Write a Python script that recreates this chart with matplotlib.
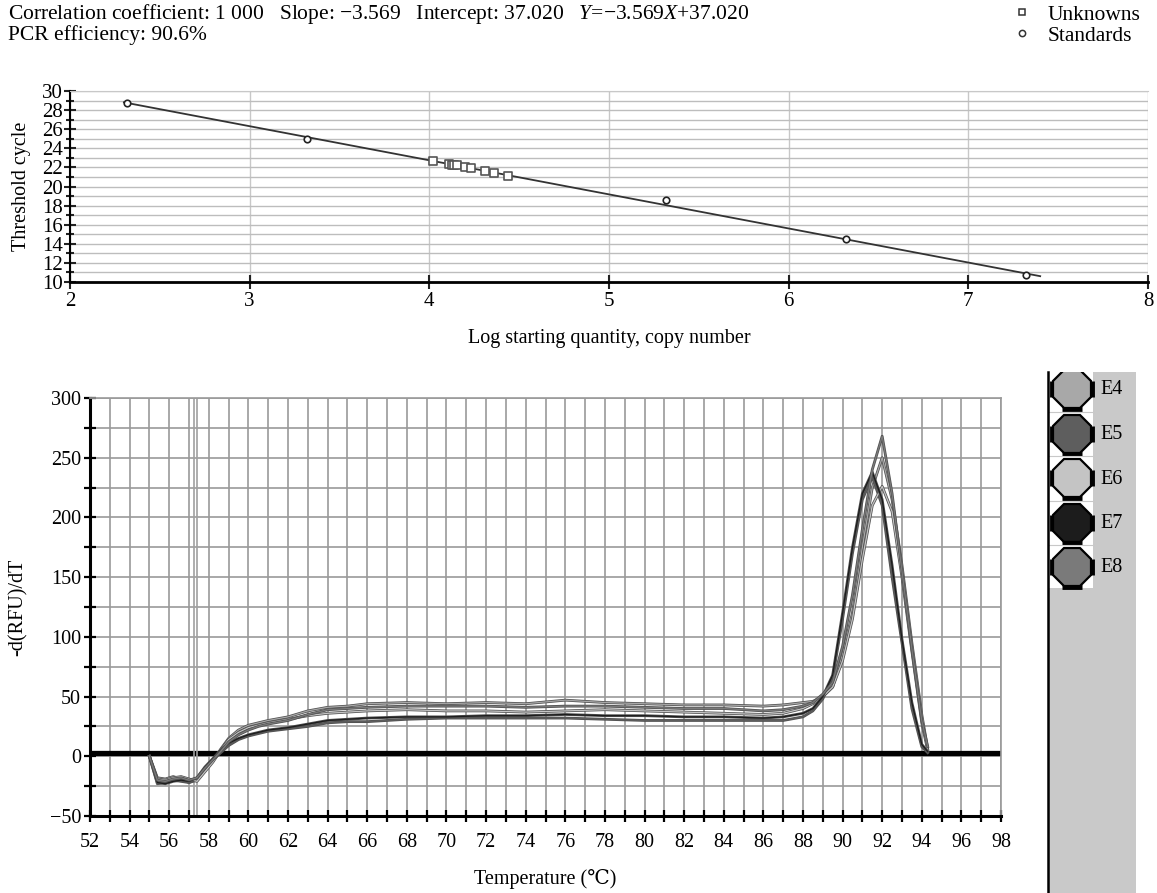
import matplotlib
matplotlib.use('Agg')
import matplotlib.pyplot as plt
import matplotlib.patheffects as pe
from matplotlib.lines import Line2D
from matplotlib.patches import Rectangle
from matplotlib.ticker import MultipleLocator

plt.rcParams['font.family'] = ['Liberation Serif', 'DejaVu Serif']
plt.rcParams['font.size'] = 14.5
plt.rcParams['mathtext.fontset'] = 'custom'
plt.rcParams['mathtext.rm'] = 'Liberation Serif'
plt.rcParams['mathtext.it'] = 'Liberation Serif:italic'

# ---- standard curve data (top panel) ----
std_x = [2.32, 3.32, 5.32, 6.32, 7.32]
std_y = [28.7, 25.0, 18.6, 14.5, 10.7]
unk_x = [4.02, 4.11, 4.125, 4.14, 4.155, 4.20, 4.23, 4.31, 4.36, 4.44]
unk_y = [22.7, 22.35, 22.3, 22.25, 22.2, 22.0, 21.95, 21.65, 21.45, 21.15]
slope = -3.569
intercept = 37.020
fit_range = [2.30, 7.40]

# ---- melt curve data (bottom panel) ----
temps = [55.0, 55.4, 55.8, 56.2, 56.6, 57.0, 57.4, 57.8, 58.2, 58.6, 59.0, 59.5,
         60.0, 60.5, 61.0, 62.0, 63.0, 64.0, 65.0, 66.0, 68.0, 70.0, 72.0, 74.0,
         76.0, 78.0, 80.0, 82.0, 84.0, 86.0, 87.0, 88.0, 88.5, 89.0, 89.5, 90.0,
         90.5, 91.0, 91.5, 92.0, 92.5, 93.0, 93.5, 94.0, 94.3]
melt_e4 = [0, -18, -19, -17, -19, -22, -20, -12, -4, 6, 15, 22,
           26, 28, 30, 33, 38, 41, 42, 44, 45, 44, 45, 44,
           47, 45, 44, 43, 43, 42, 43, 45, 46, 50, 58, 85,
           120, 175, 225, 250, 215, 160, 95, 35, 6]
melt_e5 = [0, -23, -22, -20, -21, -22, -19, -11, -3, 3, 9, 14,
           17, 19, 21, 23, 25, 28, 29, 29, 31, 32, 32, 32,
           32, 31, 30, 30, 30, 30, 30, 33, 38, 48, 66, 115,
           170, 215, 234, 210, 150, 95, 40, 8, 3]
melt_e6 = [0, -19, -20, -18, -17, -19, -21, -13, -5, 5, 14, 20,
           24, 26, 28, 31, 34, 36, 37, 38, 39, 38, 38, 37,
           38, 39, 38, 37, 36, 35, 36, 40, 44, 50, 58, 80,
           115, 165, 210, 226, 205, 150, 88, 28, 5]
melt_e7 = [0, -22, -23, -21, -20, -21, -18, -9, -2, 5, 11, 15,
           18, 20, 22, 24, 27, 30, 31, 32, 33, 33, 34, 34,
           35, 34, 34, 33, 33, 32, 33, 36, 40, 50, 68, 120,
           175, 220, 238, 215, 160, 98, 45, 10, 4]
melt_e8 = [0, -20, -21, -19, -18, -20, -18, -10, -3, 4, 12, 18,
           22, 25, 27, 30, 35, 39, 40, 41, 42, 42, 42, 41,
           42, 42, 41, 40, 40, 38, 39, 42, 45, 52, 62, 92,
           135, 190, 240, 268, 220, 155, 90, 30, 8]
wells = ['E4', 'E5', 'E6', 'E7', 'E8']
well_colors = ['#a8a8a8', '#5e5e5e', '#c4c4c4', '#1c1c1c', '#7a7a7a']

W, H = 1157, 893
fig = plt.figure(figsize=(W / 100, H / 100), dpi=100)

# ---------------- top panel ----------------
ax1 = fig.add_axes([70 / W, 1 - 282 / H, (1148 - 70) / W, (282 - 91) / H])
ax1.set_xlim(2, 8)
ax1.set_ylim(10, 30)
ax1.xaxis.set_major_locator(MultipleLocator(1))
ax1.yaxis.set_major_locator(MultipleLocator(2))
ax1.yaxis.set_minor_locator(MultipleLocator(1))
ax1.grid(True, which='both', axis='y', color='#bdbdbd', lw=1.0)
ax1.grid(True, which='major', axis='x', color='#c8c8c8', lw=1.0)
ax1.tick_params(axis='both', which='both', direction='inout', color='#222', width=1.5,
                labelsize=15)
ax1.tick_params(axis='y', which='major', length=8, pad=1)
ax1.tick_params(axis='y', which='minor', length=6)
ax1.tick_params(axis='x', length=10, pad=2)
ax1.spines['left'].set_linewidth(1.5)
ax1.spines['bottom'].set_linewidth(2.0)
ax1.spines['top'].set_color('#c8c8c8')
ax1.spines['right'].set_visible(False)
ax1.set_axisbelow(True)

ax1.plot(fit_range, [slope * x + intercept for x in fit_range], color='#333', lw=1.3, zorder=3)
ax1.scatter(unk_x, unk_y, marker='s', s=38, facecolor='white', edgecolor='#555', lw=1.2, zorder=4)
ax1.scatter(std_x, std_y, marker='o', s=22, facecolor='white', edgecolor='#222', lw=1.2, zorder=4)
ax1.set_ylabel('Threshold cycle', labelpad=8)
ax1.set_xlabel('Log starting quantity, copy number', labelpad=13)

fig.text(8 / W, 1 - 14 / H,
         'Correlation coefficient: 1 000   Slope: \u22123.569   Intercept: 37.020   '
         '$Y$=\u22123.569$X$+37.020', va='center', ha='left', fontsize=15.5)
fig.text(8 / W, 1 - 35 / H, 'PCR efficiency: 90.6%', va='center', ha='left', fontsize=15.5)

handles = [Line2D([], [], ls='none', marker='s', ms=5, mfc='white', mec='#333', mew=1.1),
           Line2D([], [], ls='none', marker='o', ms=4.5, mfc='white', mec='#333', mew=1.1)]
fig.legend(handles, ['Unknowns', 'Standards'], loc='upper right',
           bbox_to_anchor=(1 - 8 / W, 1 + 4 / H), frameon=False, fontsize=15.5,
           handlelength=0.8, handletextpad=0.8, labelspacing=0.05, borderaxespad=0)

# ---------------- bottom panel ----------------
ax2 = fig.add_axes([90 / W, 1 - 816 / H, (1001 - 90) / W, (816 - 398) / H])
ax2.set_xlim(52, 98)
ax2.set_ylim(-50, 300)
ax2.xaxis.set_major_locator(MultipleLocator(2))
ax2.xaxis.set_minor_locator(MultipleLocator(1))
ax2.yaxis.set_major_locator(MultipleLocator(50))
ax2.yaxis.set_minor_locator(MultipleLocator(25))
ax2.grid(True, which='both', color='#9a9a9a', lw=1.2)
ax2.tick_params(axis='both', which='both', direction='inout', color='black', width=1.6, length=9)
ax2.tick_params(axis='x', pad=8)
ax2.tick_params(axis='y', pad=2)
for s in ['left', 'bottom']:
    ax2.spines[s].set_linewidth(2.2)
for s in ['top', 'right']:
    ax2.spines[s].set_color('#9a9a9a')
    ax2.spines[s].set_linewidth(1.2)
ax2.set_axisbelow(True)

ax2.axhline(2.5, color='black', lw=3.8, zorder=2)
ax2.axvline(57.25, color='#a0a0a0', lw=1.2, zorder=2)
ax2.axvline(57.42, color='#a0a0a0', lw=1.2, zorder=2)

curves = [melt_e4, melt_e5, melt_e6, melt_e7, melt_e8]
for vals, col in zip(curves, well_colors):
    ln, = ax2.plot(temps, vals, color=col, lw=0.9, zorder=3)
    ln.set_path_effects([pe.Stroke(linewidth=2.0, foreground='#505050'), pe.Normal()])

ax2.set_ylabel('-d(RFU)/dT', labelpad=16)
ax2.set_xlabel('Temperature (\u2103)', labelpad=12)

# ---------------- well selector panel ----------------
pax = fig.add_axes([1048 / W, 0, 88 / W, 1 - 372 / H])
pax.set_xlim(0, 88)
pax.set_ylim(521, 0)
pax.set_facecolor('#c9c9c9')
pax.set_xticks([])
pax.set_yticks([])
for s in ['top', 'right', 'bottom']:
    pax.spines[s].set_visible(False)
pax.spines['left'].set_linewidth(1.8)
pax.add_patch(Rectangle((1, 0), 44, 216, facecolor='white', edgecolor='none'))
for i, (name, col) in enumerate(zip(wells, well_colors)):
    yc = 17 + i * 44.5
    if i > 0:
        pax.plot([1, 45], [yc - 22, yc - 22], color='#c8c8c8', lw=0.8)
    pax.plot([4, 44], [yc, yc], ls='none', marker='|', ms=12, mew=3.5, color='black')
    pax.plot([24], [yc + 20], ls='none', marker='_', ms=14, mew=3.5, color='black')
    pax.plot([24], [yc], marker='8', ms=29, mfc=col, mec='black', mew=1.6)
    pax.text(52, yc + 1, name, va='center', ha='left')

fig.savefig('out.png', dpi=100)
